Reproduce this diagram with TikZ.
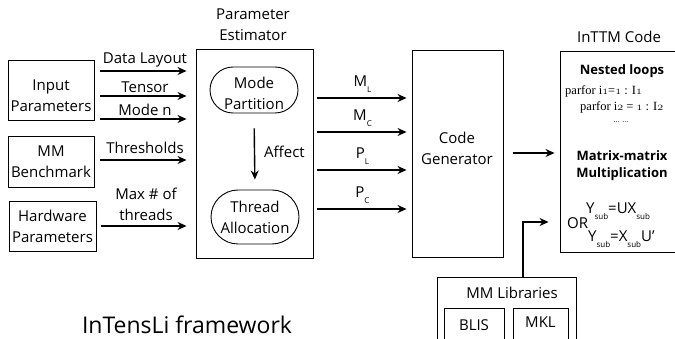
\documentclass[tikz,border=0pt]{standalone}
\usepackage{fontspec}
\setmainfont{Open Sans}
\newfontfamily\codefont{Liberation Serif}
\usetikzlibrary{arrows.meta}
% old-style digits taken from the math italic font
\newcommand\osn[1]{\ensuremath{\mathnormal{#1}}}
% lowered small subscript
\newcommand\lsub[1]{\raisebox{-0.7ex}{\fontsize{8}{8}\selectfont #1}}
\begin{document}
\begin{tikzpicture}[x=1pt,y=-1pt,
  txt/.style={font=\fontsize{15}{21}\selectfont, align=center, inner sep=0pt},
  box/.style={draw, line width=0.9pt, inner sep=0pt, align=center,
              font=\fontsize{15}{21}\selectfont},
  arr/.style={-{Stealth[length=9pt,width=8pt]}, line width=1.4pt},
  code/.style={inner sep=0pt, font=\codefont\fontsize{12.5}{15}\selectfont},
  bold/.style={inner sep=0pt, font=\bfseries\fontsize{13}{17}\selectfont, align=center}]
\clip (0,0) rectangle (675,339);

% level lines for the connectors
\coordinate (yDL) at (0,71);
\coordinate (yTe) at (0,96);
\coordinate (yMn) at (0,119);
\coordinate (yTh) at (0,160);
\coordinate (yMx) at (0,226);
\coordinate (yML) at (0,98);
\coordinate (yMC) at (0,132);
\coordinate (yPL) at (0,170);
\coordinate (yPC) at (0,209);
\coordinate (yCG) at (0,153);
\coordinate (yLb) at (0,222);

% input boxes
\node[box, minimum width=86, minimum height=60] (inp) at (51,90) {};
\node[txt] (inpt) at (51,96) {Input\\Parameters};
\node[box, minimum width=86, minimum height=51] (mmb) at (51,161.5) {MM\\Benchmark};
\node[box, minimum width=87, minimum height=50] (hw) at (52.5,226) {Hardware\\Parameters};

% parameter estimator
\node[box, minimum width=117, minimum height=209] (pe) at (254.5,153.5) {};
\node[txt] (pet) at (253,25) {Parameter\\Estimator};
\node[box, minimum width=88, minimum height=46, rounded corners=23] (mp) at (254,90) {};
\node[txt] (mpt) at (254,93) {Mode\\Partition};
\node[box, minimum width=88, minimum height=54, rounded corners=27] (ta) at (255,217) {Thread\\Allocation};
\draw[arr, shorten <=15pt, shorten >=10pt] (mp.south) -- (ta.north)
  node[midway, right=9pt, txt] (aff) {Affect};

% code generator
\node[box, minimum width=91, minimum height=207] (cg) at (457.5,153.5) {};
\node[txt] (cgt) at (457,148) {Code\\Generator};

% generated code
\node[box, minimum width=140, minimum height=201] (code) at (630,151.5) {};
\node[txt] (codet) at (619,37) {InTTM Code};
\node[bold] (nl) at (622,71) {Nested loops};
\node[code, anchor=west] (pf1) at (565,91) {parfor i\osn{1}=\osn{1} : I\osn{1}};
\node[code, anchor=west] (pf2) at (580,107) {parfor i\osn{2} = \osn{1} : I\osn{2}};
\node[code] (dots) at (621,122) {\fontsize{8}{8}\selectfont ... ...};
\node[bold] (mm) at (622,165.5) {Matrix-matrix\\Multiplication};
\node[txt, anchor=west] (f1) at (586,211) {Y\lsub{sub}=UX\lsub{sub}};
\node[txt, anchor=west] (orr) at (567,223) {OR};
\node[txt, anchor=west] (f2) at (588,239) {Y\lsub{sub}=X\lsub{sub}U’};

% libraries
\node[box, minimum width=139, minimum height=73] (lib) at (506.5,313.5) {};
\node[txt] (libt) at (512,293) {MM Libraries};
\node[box, minimum width=60, minimum height=42] (blis) at (474,329) {};
\node[txt] (blist) at (474,325) {BLIS};
\node[box, minimum width=55, minimum height=42] (mkl) at (540.5,329) {};
\node[txt] (mklt) at (540.5,322) {MKL};

% framework caption
\node[txt, font=\fontsize{23}{26}\selectfont, anchor=base] (fw) at (187,334) {InTensLi framework};

% inputs into the estimator
\draw[arr, shorten <=6pt, shorten >=9pt] (inp.east |- yDL) -- (pe.west |- yDL)
  node[midway, above=3pt, txt] (ldl) {Data Layout};
\draw[arr, shorten <=6pt, shorten >=9pt] (inp.east |- yTe) -- (pe.west |- yTe)
  node[midway, above=3pt, txt] (lte) {Tensor};
\draw[arr, shorten <=6pt, shorten >=9pt] (inp.east |- yMn) -- (pe.west |- yMn)
  node[midway, above=3pt, txt] (lmn) {Mode n};
\draw[arr, shorten <=6pt, shorten >=9pt] (mmb.east |- yTh) -- (pe.west |- yTh)
  node[midway, above=6pt, txt] (lth) {Thresholds};
\draw[arr, shorten <=5pt, shorten >=9pt] (hw.east |- yMx) -- (pe.west |- yMx)
  node[midway, above=5pt, txt] (lmx) {Max \# of\\threads};

% estimator outputs
\draw[arr, shorten <=4pt, shorten >=5pt] (pe.east |- yML) -- (cg.west |- yML)
  node[midway, above=5pt, txt] (lml) {M\lsub{L}};
\draw[arr, shorten <=4pt, shorten >=5pt] (pe.east |- yMC) -- (cg.west |- yMC)
  node[midway, above=5pt, txt] (lmc) {M\lsub{C}};
\draw[arr, shorten <=4pt, shorten >=5pt] (pe.east |- yPL) -- (cg.west |- yPL)
  node[midway, above=5pt, txt] (lpl) {P\lsub{L}};
\draw[arr, shorten <=4pt, shorten >=5pt] (pe.east |- yPC) -- (cg.west |- yPC)
  node[midway, above=5pt, txt] (lpc) {P\lsub{C}};

% generator to code, libraries to code
\draw[arr, shorten <=10pt, shorten >=5pt] (cg.east |- yCG) -- (code.west |- yCG);
\draw[arr, shorten >=11pt] ([xshift=16.5pt]lib.north) |- (code.west |- yLb);
\end{tikzpicture}
\end{document}
